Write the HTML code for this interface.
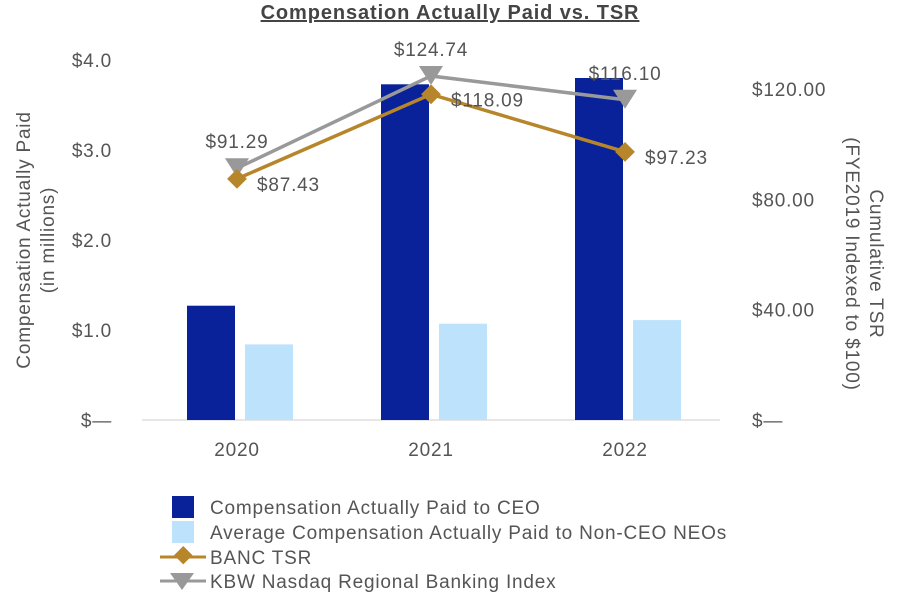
<!DOCTYPE html>
<html><head><meta charset="utf-8"><style>
body{margin:0;background:#fff;font-family:"Liberation Sans",Arial,sans-serif;}
svg text{font-family:"Liberation Sans",Arial,sans-serif;fill:#555;letter-spacing:0.8px;}
</style></head><body>
<svg id="chart" width="900" height="600" xmlns="http://www.w3.org/2000/svg">
<text x="450" y="19" text-anchor="middle" font-size="20" font-weight="bold" text-decoration="underline" style="fill:#444;letter-spacing:0.9px">Compensation Actually Paid vs. TSR</text>
<line x1="142" y1="420" x2="720" y2="420" stroke="#ccc" stroke-width="1"/>
<g id="bars"></g><g id="lines"></g><g id="axes"></g>
<text transform="translate(30,240) rotate(-90)" text-anchor="middle" font-size="19">Compensation Actually Paid</text>
<text transform="translate(54,240) rotate(-90)" text-anchor="middle" font-size="19">(in millions)</text>
<text transform="translate(870,264) rotate(90)" text-anchor="middle" font-size="19">Cumulative TSR</text>
<text transform="translate(846,264) rotate(90)" text-anchor="middle" font-size="19">(FYE2019 Indexed to $100)</text>
<g font-size="19">
<rect x="172" y="496" width="22" height="22" fill="#0a2299"/>
<text x="210" y="514">Compensation Actually Paid to CEO</text>
<rect x="172" y="521" width="22" height="22" fill="#bde3fc"/>
<text x="210" y="539">Average Compensation Actually Paid to Non-CEO NEOs</text>
<line x1="160" y1="557" x2="206" y2="557" stroke="#b8862a" stroke-width="3"/>
<rect x="175" y="548" width="13" height="13" fill="#b8862a" transform="rotate(45 181.5 557)"/>
<text x="210" y="564">BANC TSR</text>
<line x1="160" y1="581" x2="206" y2="581" stroke="#999" stroke-width="3"/>
<polygon points="170,573 194,573 182,590" fill="#999"/>
<text x="210" y="588">KBW Nasdaq Regional Banking Index</text>
</g>
</svg>
<script>
const years=["2020","2021","2022"];
const ceoComp=[1.27,3.73,3.80];
const neoComp=[0.84,1.07,1.11];
const bancTSR=[87.43,118.09,97.23];
const kbwTSR=[91.29,124.74,116.10];
const leftTicks=[0,1,2,3,4];
const leftTickLabels=["$\u2014","$1.0","$2.0","$3.0","$4.0"];
const rightTicks=[0,40,80,120];
const rightTickLabels=["$\u2014","$40.00","$80.00","$120.00"];
const NS="http://www.w3.org/2000/svg";
const yL=v=>420-v*90;
const yR=v=>420-v*2.758;
const xC=i=>237+i*194;
function mk(tag,attrs,parent,text){const e=document.createElementNS(NS,tag);for(const k in attrs)e.setAttribute(k,attrs[k]);if(text!==undefined)e.textContent=text;document.getElementById(parent).appendChild(e);return e;}
years.forEach((y,i)=>{
 let e=mk('rect',{x:xC(i)-50,y:yL(ceoComp[i]),width:48,height:420-yL(ceoComp[i]),fill:'#0a2299'},'bars');
 
 
 e=mk('rect',{x:xC(i)+8,y:yL(neoComp[i]),width:48,height:420-yL(neoComp[i]),fill:'#bde3fc'},'bars');
 
 
 e=mk('text',{x:xC(i),y:456,'text-anchor':'middle','font-size':19},'axes',y);
 
 
});
leftTicks.forEach((v,i)=>{
 const e=mk('text',{x:112,y:yL(v)+7,'text-anchor':'end','font-size':19},'axes',leftTickLabels[i]);
 
 
});
rightTicks.forEach((v,i)=>{
 const e=mk('text',{x:752,y:yR(v)+7,'font-size':19},'axes',rightTickLabels[i]);
 
 
});
let p=mk('polyline',{points:kbwTSR.map((v,i)=>xC(i)+','+yR(v)).join(' '),fill:'none',stroke:'#999','stroke-width':3.5},'lines');


p=mk('polyline',{points:bancTSR.map((v,i)=>xC(i)+','+yR(v)).join(' '),fill:'none',stroke:'#b8862a','stroke-width':3.5},'lines');


kbwTSR.forEach((v,i)=>{
 const x=xC(i),y=yR(v);
 let e=mk('polygon',{points:`${x-12},${y-10} ${x+12},${y-10} ${x},${y+9}`,fill:'#999'},'lines');
 
 
 e=mk('text',{x:x,y:y-20,'text-anchor':'middle','font-size':19},'lines','$'+v.toFixed(2));
 
 
});
bancTSR.forEach((v,i)=>{
 const x=xC(i),y=yR(v);
 let e=mk('rect',{x:x-7,y:y-7,width:14,height:14,fill:'#b8862a',transform:`rotate(45 ${x} ${y})`},'lines');
 
 
 e=mk('text',{x:x+20,y:y+12,'font-size':19},'lines','$'+v.toFixed(2));
 
 
});
</script>
</body></html>
